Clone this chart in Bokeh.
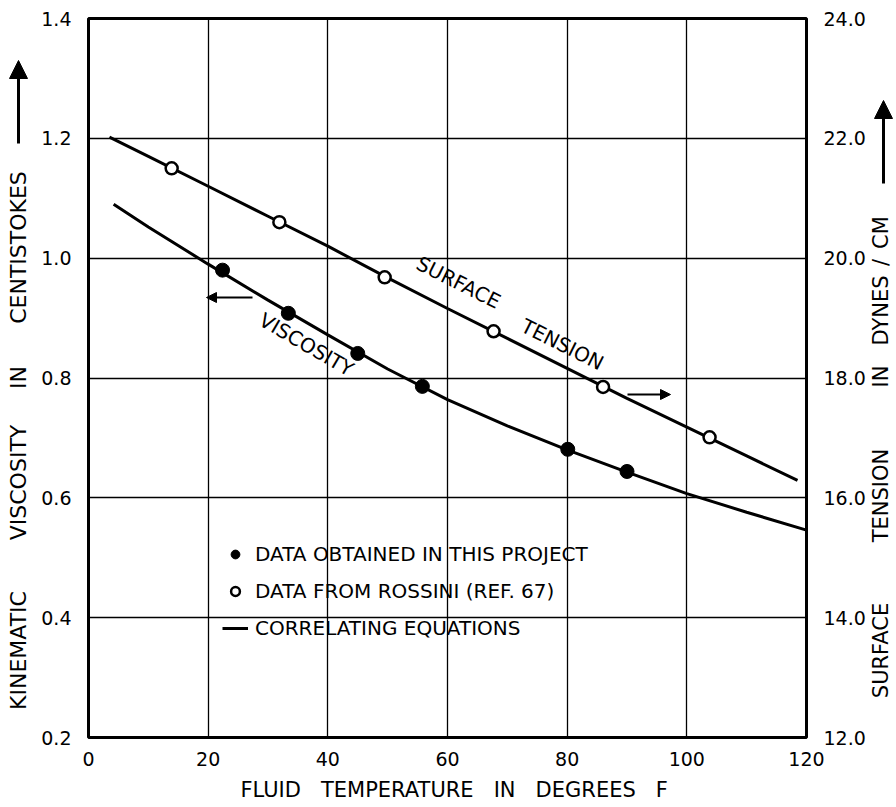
import math
from bokeh.plotting import figure
from bokeh.layouts import row
from bokeh.models import (Range1d, LinearAxis, FixedTicker, PrintfTickFormatter, Label,
                          Arrow, NormalHead, Legend, LegendItem)
from bokeh.embed import file_html
from bokeh.resources import INLINE

# ---------------- data ----------------
x_ticks = [0, 20, 40, 60, 80, 100, 120]
visc_ticks = [0.2, 0.4, 0.6, 0.8, 1.0, 1.2, 1.4]
st_ticks = [12, 14, 16, 18, 20, 22, 24]

# viscosity measured points (this project)
visc_pts_x = [22.4, 33.4, 45.0, 55.8, 80.1, 90.0]
visc_pts_y = [0.980, 0.908, 0.841, 0.786, 0.681, 0.644]

# surface tension points (Rossini)
st_pts_x = [13.9, 31.9, 49.5, 67.7, 86.0, 103.8]
st_pts_y = [21.50, 20.60, 19.68, 18.78, 17.85, 17.01]

# correlating equation curves
visc_curve_x = [4.2, 10, 20, 30, 40, 50, 60, 70, 80, 90, 100, 110, 120]
visc_curve_y = [1.090, 1.052, 0.990, 0.930, 0.872, 0.815, 0.764, 0.720, 0.680, 0.643, 0.607, 0.576, 0.546]

st_curve_x = [3.5, 10, 20, 30, 40, 50, 60, 70, 80, 90, 100, 110, 118.5]
st_curve_y = [22.02, 21.70, 21.20, 20.70, 20.20, 19.67, 19.16, 18.66, 18.16, 17.66, 17.18, 16.70, 16.29]

left_title_words = ["KINEMATIC", "VISCOSITY", "IN", "CENTISTOKES"]
right_title_words = ["SURFACE", "TENSION", "IN", "DYNES", "/", "CM"]
x_title_words = ["FLUID", "TEMPERATURE", "IN", "DEGREES", "F"]

FONT = "DejaVu Sans"
NB = "\u00a0"

# ---------------- geometry ----------------
W, H = 896, 807
LW, RW = 34, 28                 # side strips
MW = W - LW - RW                # main figure width
FL, FR, FT, FB = 88, 806, 18, 737   # frame in page pixels

def X(px):
    return (px - FL) / (FR - FL) * 120.0
def Y(py):
    return 1.4 - (py - FT) / (FB - FT) * 1.2

# ---------------- main figure ----------------
p = figure(width=MW, height=H, x_range=Range1d(0, 120), y_range=Range1d(0.2, 1.4),
           output_backend="svg", toolbar_location=None,
           min_border_left=FL - LW, min_border_right=(W - RW) - FR,
           min_border_top=FT, min_border_bottom=H - FB)
p.extra_y_ranges = {"st": Range1d(12, 24)}

right = LinearAxis(y_range_name="st")
p.add_layout(right, "right")

p.xaxis.ticker = FixedTicker(ticks=x_ticks)
p.yaxis[0].ticker = FixedTicker(ticks=visc_ticks)
p.yaxis[0].formatter = PrintfTickFormatter(format="%.1f")
right.ticker = FixedTicker(ticks=st_ticks)
right.formatter = PrintfTickFormatter(format="%.1f")

for ax in [p.xaxis[0], p.yaxis[0], right]:
    ax.axis_line_color = None
    ax.major_tick_line_color = None
    ax.minor_tick_line_color = None
    ax.major_label_text_font = FONT
    ax.major_label_text_font_size = "19px"
    ax.major_label_text_color = "black"
p.xaxis.major_label_standoff = 8
p.yaxis[0].major_label_standoff = 11
right.major_label_standoff = 11

p.xaxis.axis_label = NB * 2 + (NB * 3).join(x_title_words)
p.xaxis.axis_label_text_font = FONT
p.xaxis.axis_label_text_font_size = "21px"
p.xaxis.axis_label_text_font_style = "normal"
p.xaxis.axis_label_text_color = "black"
p.xaxis.axis_label_standoff = 9

p.xgrid.ticker = FixedTicker(ticks=x_ticks)
p.ygrid.ticker = FixedTicker(ticks=visc_ticks)
for g in [p.xgrid[0], p.ygrid[0]]:
    g.grid_line_color = "black"
    g.grid_line_width = 1.3
    g.grid_line_alpha = 1.0

p.outline_line_color = "black"
p.outline_line_width = 3
p.background_fill_color = "white"
p.border_fill_color = "white"

vline = p.line(visc_curve_x, visc_curve_y, line_width=3, line_color="black")
sline = p.line(st_curve_x, st_curve_y, line_width=3, line_color="black", y_range_name="st")
vpts = p.scatter(visc_pts_x, visc_pts_y, marker="circle", size=14, fill_color="black", line_color="black")
spts = p.scatter(st_pts_x, st_pts_y, marker="circle", size=12, fill_color="white", line_color="black",
                 line_width=2.5, y_range_name="st")

legend = Legend(items=[LegendItem(label="DATA OBTAINED IN THIS PROJECT", renderers=[vpts]),
                       LegendItem(label="DATA FROM ROSSINI (REF. 67)", renderers=[spts]),
                       LegendItem(label="CORRELATING EQUATIONS", renderers=[vline])],
                location=(222 - FL, FB - 640), orientation="vertical",
                background_fill_alpha=0, border_line_color=None, padding=0, margin=0,
                spacing=13, glyph_width=26, glyph_height=22, label_height=22, label_standoff=7,
                label_text_font=FONT, label_text_font_size="20px", label_text_color="black")
p.add_layout(legend)

def lab(fig, x, y, text, angle=0.0, size="20px"):
    fig.add_layout(Label(x=x, y=y, text=text, angle=angle, text_align="center",
                         text_baseline="middle", text_font=FONT, text_font_size=size,
                         text_color="black"))

lab(p, X(458), Y(282), "SURFACE", -0.466)
lab(p, X(562), Y(344), "TENSION", -0.466)
lab(p, X(306), Y(344), "VISCOSITY", -0.527)

def arrow(fig, x0, y0, x1, y1, size, lw=2):
    fig.add_layout(Arrow(end=NormalHead(size=size, fill_color="black", line_color="black"),
                         x_start=x0, y_start=y0, x_end=x1, y_end=y1,
                         line_width=lw, line_color="black"))

arrow(p, X(252), Y(297), X(206), Y(297), 10)
arrow(p, X(627), Y(394), X(670), Y(394), 10)

# ---------------- side strips (page-pixel coordinates; frames align with main frame) ----------------
def strip(width):
    f = figure(width=width, height=H, x_range=Range1d(0, width), y_range=Range1d(FB, FT),
               output_backend="svg", toolbar_location=None, x_axis_type=None, y_axis_type=None,
               min_border_left=0, min_border_right=0, min_border_top=FT, min_border_bottom=H - FB)
    f.grid.visible = False
    f.outline_line_color = None
    f.background_fill_color = "white"
    f.border_fill_color = "white"
    return f

lf = strip(LW)
for py, t in zip([650, 482, 377, 247], left_title_words):
    lab(lf, 18, py, t, math.pi / 2, "22px")
arrow(lf, 18, 143, 18, 60, 18, 3)

rf = strip(RW)
for py, t in zip([650, 495, 376, 310, 262, 232], right_title_words):
    lab(rf, 880 - (W - RW), py, t, math.pi / 2, "21px")
arrow(rf, 883 - (W - RW), 183, 883 - (W - RW), 100, 18, 3)

layout = row(lf, p, rf, spacing=0)
open("out.html", "w").write(file_html(layout, INLINE))
